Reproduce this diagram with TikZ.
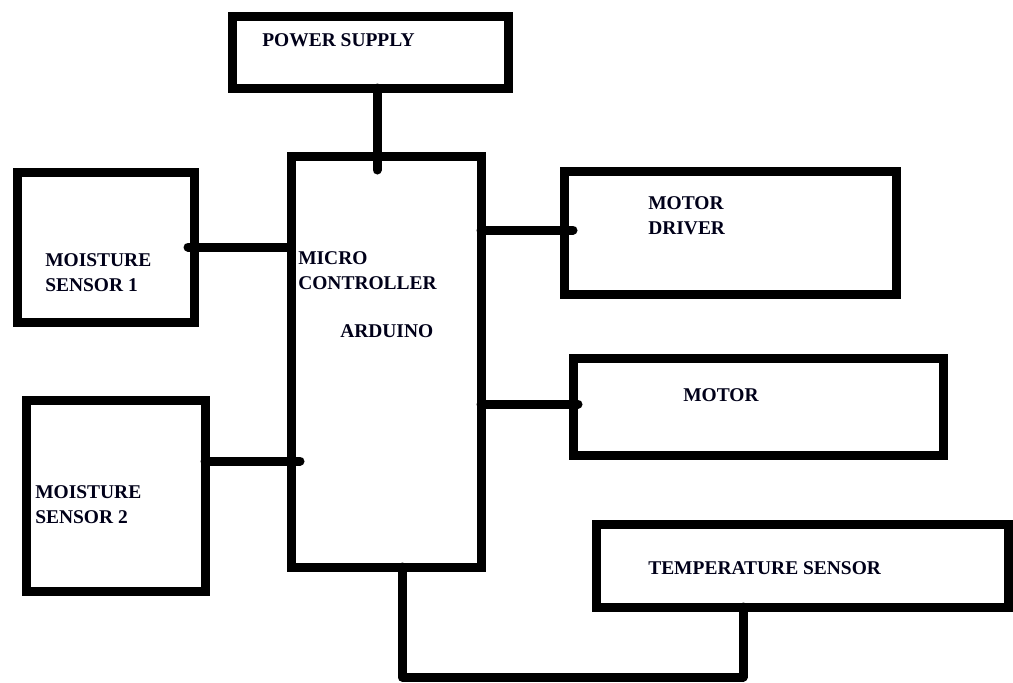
\documentclass[tikz,border=0pt]{standalone}
\usepackage{fontspec}
\setmainfont{Liberation Serif}
\begin{document}
\begin{tikzpicture}[x=0.75pt,y=-0.75pt,
  blk/.style={draw=black,line width=6.75pt,inner sep=0pt,outer sep=0pt,fill=white},
  lbl/.style={anchor=west,align=left,inner sep=0pt,font=\fontsize{14.6}{18.75}\selectfont\bfseries,text=black!90!blue},
  conn/.style={line width=6.75pt,line cap=round,line join=round}]
\useasboundingbox (0,0) rectangle (1013,682);
% boxes
\node[blk,minimum width=207pt,minimum height=54pt] (ps) at (370,52) {};
\node[blk,minimum width=142.5pt,minimum height=308.25pt] (mc) at (386,361.5) {};
\node[blk,minimum width=132.75pt,minimum height=112.5pt] (ms1) at (105.5,247) {};
\node[blk,minimum width=134.25pt,minimum height=143.25pt] (ms2) at (115.5,495.5) {};
\node[blk,minimum width=249pt,minimum height=92.25pt] (md) at (730,233) {};
\node[blk,minimum width=277.5pt,minimum height=72.75pt] (mt) at (758,406.5) {};
\node[blk,minimum width=309pt,minimum height=62.25pt] (ts) at (802,565.5) {};
% labels
\node[lbl] (tps) at (262,40) {POWER SUPPLY};
\node[lbl] (tms1) at (45,272.5) {MOISTURE\\SENSOR 1};
\node[lbl] (tms2) at (35,504.5) {MOISTURE\\SENSOR 2};
\node[lbl] (tmc) at (298,270.5) {MICRO\\CONTROLLER};
\node[lbl] (tard) at (340,331) {ARDUINO};
\node[lbl] (tmd) at (648,215.5) {MOTOR\\DRIVER};
\node[lbl] (tmt) at (683,395) {MOTOR};
\node[lbl] (tts) at (648,568) {TEMPERATURE SENSOR};
% connector end points
\coordinate (c1) at (377,170);
\coordinate (c2) at (188,247);
\coordinate (c3) at (573,230);
\coordinate (c4) at (578,404);
\coordinate (c5) at (300,461);
\coordinate (c6) at (402,677);
\coordinate (c7) at (743,677);
% connectors
\draw[conn] (c1 |- ps.south) -- (c1);
\draw[conn] (c2) -- (c2 -| mc.west);
\draw[conn] (c3 -| mc.east) -- (c3);
\draw[conn] (c4 -| mc.east) -- (c4);
\draw[conn] (c5 -| ms2.east) -- (c5);
\draw[conn] (c6 |- mc.south) -- (c6) -- (c7) -- (c7 |- ts.south);
\end{tikzpicture}
\end{document}
